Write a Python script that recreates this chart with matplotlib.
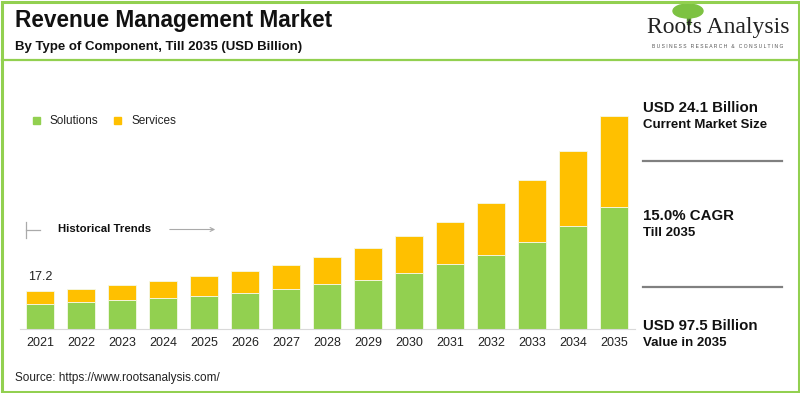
import numpy as np
import matplotlib.pyplot as plt
from matplotlib.patches import Rectangle, Ellipse, FancyArrowPatch
from matplotlib.lines import Line2D

plt.rcParams['font.family'] = ['Liberation Sans', 'DejaVu Sans']

years = ['2021', '2022', '2023', '2024', '2025', '2026', '2027', '2028',
         '2029', '2030', '2031', '2032', '2033', '2034', '2035']
solutions = [11.3, 12.2, 13.1, 14.0, 15.0, 16.6, 18.3, 20.6, 22.6, 25.6, 29.6, 34.0, 39.8, 47.1, 55.8]
services = [5.9, 6.2, 7.0, 8.1, 9.1, 9.8, 11.0, 12.3, 14.6, 17.1, 19.5, 23.7, 28.5, 34.4, 41.7]
first_label = '17.2'

GREEN = '#92D050'
YELLOW = '#FFC000'
W, H = 800, 393


def fx(x):
    return x / W


def fy(y):
    return 1 - y / H


fig = plt.figure(figsize=(8, 3.93), dpi=100)

# bars
ax = fig.add_axes([fx(20), fy(329), 615 / W, 229 / H])
x = np.arange(len(years))
ax.bar(x, solutions, width=0.7, color=GREEN, edgecolor='#f4f9e8', linewidth=0.6, label='Solutions')
ax.bar(x, services, width=0.7, bottom=solutions, color=YELLOW, edgecolor='#f4f9e8', linewidth=0.6,
       label='Services')
ax.set_xlim(-0.488, 14.51)
ax.set_ylim(0, 104.7)
for s in ['top', 'right', 'left']:
    ax.spines[s].set_visible(False)
ax.spines['bottom'].set_color('#d9d9d9')
ax.set_yticks([])
ax.set_xticks(x)
ax.set_xticklabels(years, fontsize=9, color='#222222')
ax.tick_params(axis='x', length=0, pad=6)
ax.text(0, solutions[0] + services[0] + 4, first_label, ha='center', va='bottom', fontsize=9, color='#222222')

# legend
fig.add_artist(Rectangle((fx(33), fy(124.5)), 7 / W, 7 / H, color=GREEN, transform=fig.transFigure))
fig.text(fx(50), fy(121), 'Solutions', fontsize=8.5, va='center', color='#222222')
fig.add_artist(Rectangle((fx(114), fy(124.5)), 7 / W, 7 / H, color=YELLOW, transform=fig.transFigure))
fig.text(fx(131), fy(121), 'Services', fontsize=8.5, va='center', color='#222222')

# historical trends
fig.add_artist(Line2D([fx(26), fx(26)], [fy(222), fy(238)], color='#aaaaaa', lw=0.9))
fig.add_artist(Line2D([fx(26), fx(40)], [fy(230), fy(230)], color='#aaaaaa', lw=0.9))
fig.text(fx(58), fy(229.5), 'Historical Trends', fontsize=8.2, fontweight='bold', va='center', color='#111111')
fig.add_artist(FancyArrowPatch((fx(167), fy(229.5)), (fx(218), fy(229.5)), transform=fig.transFigure,
                               arrowstyle='->', mutation_scale=7, color='#aaaaaa', lw=0.8))

# title
fig.text(fx(15), fy(21), 'Revenue Management Market', fontsize=16.3, fontweight='bold', va='center',
         color='#111111')
fig.text(fx(15), fy(47), 'By Type of Component, Till 2035 (USD Billion)', fontsize=9.5, fontweight='bold',
         va='center', color='#111111')

# logo
fig.add_artist(Rectangle((fx(686.5), fy(24)), 3 / W, 12 / H, color='#5a8a3a', transform=fig.transFigure))
fig.add_artist(Ellipse((fx(688), fy(11)), 30 / W, 14 / H, color='#7dc242', transform=fig.transFigure))
fig.text(fx(718), fy(27), 'Roots Analysis', family='Liberation Serif', fontsize=17, ha='center', va='center',
         color='#222222')
fig.text(fx(718), fy(47), 'B U S I N E S S   R E S E A R C H   &   C O N S U L T I N G', fontsize=3.6,
         ha='center', va='center', color='#555555')

# right panel
fig.text(fx(643), fy(108), 'USD 24.1 Billion', fontsize=10.8, fontweight='bold', va='center', color='#111111')
fig.text(fx(643), fy(125.5), 'Current Market Size', fontsize=9.5, fontweight='bold', va='center', color='#111111')
fig.add_artist(Line2D([fx(643), fx(782)], [fy(160.5), fy(160.5)], color='#808080', lw=1.6))
fig.text(fx(643), fy(216.5), '15.0% CAGR', fontsize=10.8, fontweight='bold', va='center', color='#111111')
fig.text(fx(643), fy(233.5), 'Till 2035', fontsize=9.5, fontweight='bold', va='center', color='#111111')
fig.add_artist(Line2D([fx(643), fx(782)], [fy(286.5), fy(286.5)], color='#808080', lw=1.6))
fig.text(fx(643), fy(326), 'USD 97.5 Billion', fontsize=10.8, fontweight='bold', va='center', color='#111111')
fig.text(fx(643), fy(342.5), 'Value in 2035', fontsize=9.5, fontweight='bold', va='center', color='#111111')

# source
fig.text(fx(15), fy(378), 'Source: https://www.rootsanalysis.com/', fontsize=8.5, va='center', color='#222222')

# green frame and header rule
fig.add_artist(Rectangle((fx(1.5), fy(391.5)), 797 / W, 390 / H, fill=False, edgecolor=GREEN, lw=2.2,
                         transform=fig.transFigure))
fig.add_artist(Line2D([fx(2), fx(798)], [fy(59.5), fy(59.5)], color=GREEN, lw=1.6))

fig.savefig('out.png', dpi=100)
